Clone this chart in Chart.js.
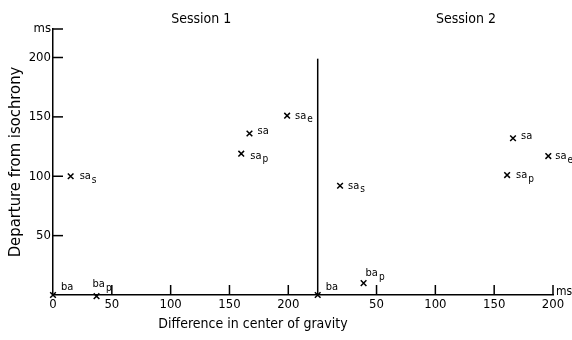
<!DOCTYPE html>
<html>
<head>
<meta charset="utf-8">
<script src="https://cdn.jsdelivr.net/npm/chart.js@4/dist/chart.umd.min.js"></script>
<style>
  html, body { margin: 0; padding: 0; background: #fff; }
  #wrap { width: 572px; height: 340px; position: relative; }
</style>
</head>
<body>
<div id="wrap"><canvas id="myChart"></canvas></div>
<script>
// valores (ms)
var session1X = [0, 37, 15, 160, 167, 199];
var session1Y = [0, -1, 100, 119, 136, 151];
var session2X = [0, 39, 19, 161, 166, 196];
var session2Y = [0, 10, 92, 101, 132, 117];
var pointNames = ['ba', 'ba', 'sa', 'sa', 'sa', 'sa'];
var pointSubs = ['', 'p', 's', 'p', '', 'e'];
var xTickValues = [0, 50, 100, 150, 200];
var yTickValues = [50, 100, 150, 200];
var sessionNames = ['Session 1', 'Session 2'];
var sessionOffset = 225;   // el eje de la sesion 2 empieza aqui
var yTop = 224;            // marca "ms" arriba del eje

// donde va cada etiqueta respecto a la cruz
var labelPlace1 = [[8, -8], [-4, -12], [9, 0], [9, 2], [8, -2], [8, 0]];
var labelPlace2 = [[8, -8], [2, -10], [8, 0], [9, 0], [8, -2], [7, 0]];

var fuente = '"DejaVu Sans Condensed", "DejaVu Sans", sans-serif';

function armarPuntos(xs, ys, offset) {
    var pts = [];
    for (var i = 0; i < xs.length; i++) {
        pts.push({ x: xs[i] + offset, y: ys[i] });
    }
    return pts;
}

var xTicks2 = xTickValues.map(function (v) { return v + sessionOffset; });

var extras = {
    id: 'extras',
    afterDraw: function (chart) {
        var ctx = chart.ctx;
        var xs = chart.scales.x, ys = chart.scales.y;
        var y0 = ys.getPixelForValue(0);
        ctx.save();
        ctx.strokeStyle = '#000';
        ctx.fillStyle = '#000';
        ctx.lineWidth = 1.5;

        // marcas hacia adentro en el eje y
        yTickValues.concat([yTop]).forEach(function (v) {
            var py = ys.getPixelForValue(v);
            ctx.beginPath();
            ctx.moveTo(xs.getPixelForValue(0), py);
            ctx.lineTo(xs.getPixelForValue(0) + 10, py);
            ctx.stroke();
        });

        // marcas hacia arriba en el eje x
        xTickValues.concat(xTicks2).forEach(function (v) {
            if (v === 0 || v === sessionOffset) return;
            var px = xs.getPixelForValue(v);
            ctx.beginPath();
            ctx.moveTo(px, y0);
            ctx.lineTo(px, y0 - 10);
            ctx.stroke();
        });

        // eje vertical de la sesion 2
        var pxm = xs.getPixelForValue(sessionOffset);
        ctx.beginPath();
        ctx.moveTo(pxm, y0);
        ctx.lineTo(pxm, ys.getPixelForValue(199));
        ctx.stroke();

        // titulos de sesion
        ctx.font = '14px ' + fuente;
        ctx.textAlign = 'center';
        ctx.textBaseline = 'middle';
        ctx.fillText(sessionNames[0], xs.getPixelForValue(126), 19);
        ctx.fillText(sessionNames[1], xs.getPixelForValue(126 + sessionOffset), 19);

        // titulo del eje x
        ctx.font = '14px ' + fuente;
        ctx.fillText('Difference in center of gravity', 253, 324);

        // "ms" al final del eje x
        ctx.font = '12px ' + fuente;
        ctx.textAlign = 'left';
        ctx.fillText('ms', xs.getPixelForValue(425) + 3, y0 - 3);

        // etiquetas de los puntos
        [[0, labelPlace1], [1, labelPlace2]].forEach(function (par) {
            var meta = chart.getDatasetMeta(par[0]);
            meta.data.forEach(function (el, i) {
                var p = par[1][i];
                var lx = el.x + p[0], ly = el.y + p[1];
                ctx.font = '11px ' + fuente;
                ctx.textAlign = 'left';
                ctx.textBaseline = 'middle';
                ctx.fillText(pointNames[i], lx, ly);
                if (pointSubs[i]) {
                    var w = ctx.measureText(pointNames[i]).width;
                    ctx.font = '10px ' + fuente;
                    ctx.fillText(pointSubs[i], lx + w + 1, ly + 4);
                }
            });
        });
        ctx.restore();
    }
};

function inicializarGrafico() {
    var ctx = document.getElementById('myChart').getContext('2d');
    var estiloPunto = {
        pointStyle: 'crossRot',
        pointRadius: 4,
        pointBorderWidth: 1.5,
        borderColor: '#000',
        backgroundColor: '#000',
        showLine: false,
        clip: false
    };
    return new Chart(ctx, {
        type: 'scatter',
        data: {
            datasets: [
                Object.assign({ label: sessionNames[0], data: armarPuntos(session1X, session1Y, 0) }, estiloPunto),
                Object.assign({ label: sessionNames[1], data: armarPuntos(session2X, session2Y, sessionOffset) }, estiloPunto)
            ]
        },
        options: {
            responsive: true,
            maintainAspectRatio: false,
            animation: false,
            layout: { padding: { top: 29, right: 19, left: 0, bottom: 0 } },
            plugins: {
                legend: { display: false },
                tooltip: { enabled: false }
            },
            scales: {
                x: {
                    type: 'linear',
                    min: 0,
                    max: 425,
                    afterBuildTicks: function (s) {
                        s.ticks = xTickValues.concat(xTicks2.slice(1)).map(function (v) { return { value: v }; });
                    },
                    afterFit: function (s) { s.height = 45; },
                    ticks: {
                        color: '#000',
                        padding: 2,
                        maxRotation: 0,
                        autoSkip: false,
                        font: { family: fuente, size: 13 },
                        callback: function (v) { return v > 212 ? v - sessionOffset : v; }
                    },
                    grid: { display: false, drawTicks: false },
                    border: { display: true, color: '#000', width: 1.5 }
                },
                y: {
                    type: 'linear',
                    min: 0,
                    max: yTop,
                    afterBuildTicks: function (s) {
                        s.ticks = yTickValues.concat([yTop]).map(function (v) { return { value: v }; });
                    },
                    afterFit: function (s) { s.width = 53; },
                    ticks: {
                        color: '#000',
                        padding: 2,
                        font: { family: fuente, size: 13 },
                        callback: function (v) { return v === yTop ? 'ms' : v; }
                    },
                    title: {
                        display: true,
                        text: 'Departure from isochrony',
                        color: '#000',
                        padding: { top: 6, bottom: 0 },
                        font: { family: fuente, size: 16.5 }
                    },
                    grid: { display: false, drawTicks: false },
                    border: { display: true, color: '#000', width: 1.5 }
                }
            }
        },
        plugins: [extras]
    });
}

inicializarGrafico();
</script>
</body>
</html>
